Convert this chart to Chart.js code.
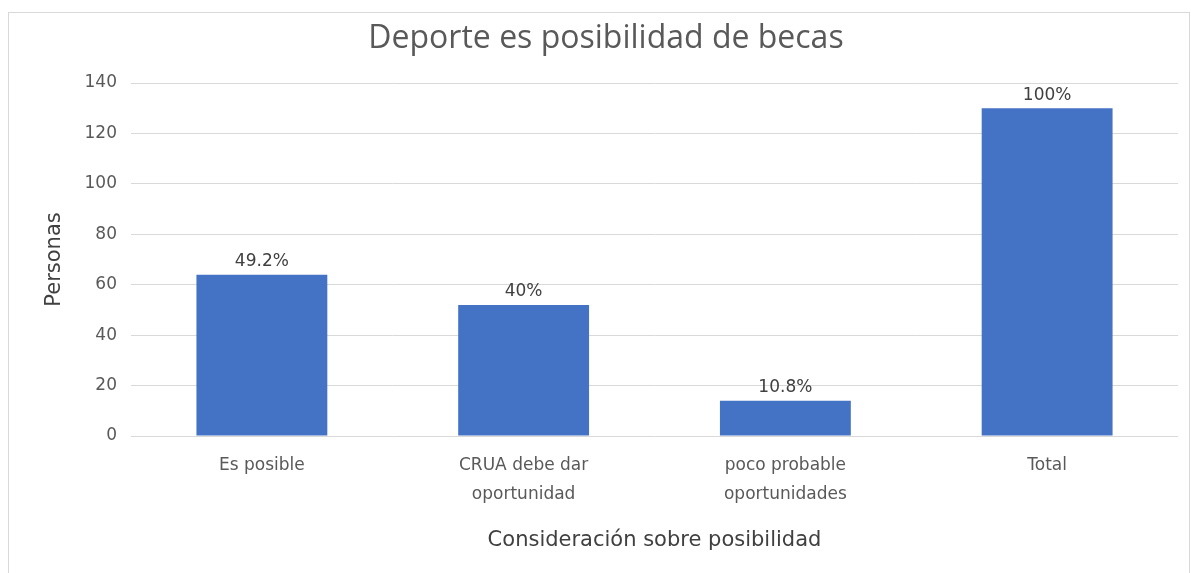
<!DOCTYPE html>
<html>
<head>
<meta charset="utf-8">
<script src="https://cdn.jsdelivr.net/npm/chart.js@4"></script>
<style>
  body { margin: 0; background: #fff; }
  #wrap { position: relative; width: 1191px; height: 573px; }
  #frame { position: absolute; left: 8px; top: 12px; width: 1180px; height: 570px; border: 1px solid #d9d9d9; }
  canvas { position: absolute; left: 0; top: 0; }
</style>
</head>
<body>
<div id="wrap">
  <div id="frame"></div>
  <canvas id="chart" width="1191" height="573"></canvas>
</div>
<script>
  var categories = [['Es posible'], ['CRUA debe dar', 'oportunidad'], ['poco probable', 'oportunidades'], ['Total']];
  var personas = [64, 52, 14, 130];
  var pctLabels = ['49.2%', '40%', '10.8%', '100%'];
  var yTicks = [0, 20, 40, 60, 80, 100, 120, 140];

  var titleFont = '"Open Sans", sans-serif';
  var smallFont = '"DejaVu Sans", sans-serif';

  // percent labels above the bars
  var barLabels = {
    id: 'barLabels',
    afterDatasetsDraw(chart) {
      var ctx = chart.ctx;
      var meta = chart.getDatasetMeta(0);
      ctx.save();
      ctx.font = '17px ' + smallFont;
      ctx.fillStyle = '#404040';
      ctx.textAlign = 'center';
      ctx.textBaseline = 'middle';
      meta.data.forEach(function (bar, i) {
        ctx.fillText(pctLabels[i], bar.x, bar.y - 13);
      });
      ctx.restore();
    }
  };

  new Chart(document.getElementById('chart'), {
    type: 'bar',
    data: {
      labels: categories,
      datasets: [{
        data: personas,
        backgroundColor: '#4472C4',
        borderWidth: 0,
        categoryPercentage: 0.5,
        barPercentage: 1
      }]
    },
    plugins: [barLabels],
    options: {
      responsive: false,
      animation: false,
      layout: { padding: { left: 34, right: 13, top: 0, bottom: 0 } },
      plugins: {
        legend: { display: false },
        tooltip: { enabled: false },
        title: {
          display: true,
          text: 'Deporte es posibilidad de becas',
          color: '#595959',
          font: { family: titleFont, size: 32, weight: 'normal' },
          padding: { top: 20, bottom: 24.6 }
        }
      },
      scales: {
        y: {
          min: 0,
          max: 140,
          afterBuildTicks: function (scale) {
            scale.ticks = yTicks.map(function (v) { return { value: v }; });
          },
          afterFit: function (scale) { scale.width = 97; },
          grid: { color: '#d9d9d9', lineWidth: 1, drawTicks: false },
          border: { display: false },
          ticks: {
            color: '#595959',
            padding: 14,
            font: { family: smallFont, size: 17 }
          },
          title: {
            display: true,
            text: 'Personas',
            color: '#404040',
            font: { family: smallFont, size: 21 },
            padding: { top: 8, bottom: 0 }
          }
        },
        x: {
          afterFit: function (scale) { scale.height = 137; },
          grid: { display: false, drawTicks: false },
          border: { display: false },
          ticks: {
            color: '#595959',
            padding: 15,
            maxRotation: 0,
            font: { family: smallFont, size: 17, lineHeight: 1.7 }
          },
          title: {
            display: true,
            text: 'Consideración sobre posibilidad',
            color: '#404040',
            font: { family: smallFont, size: 21 },
            padding: { top: 4, bottom: 20 }
          }
        }
      }
    }
  });
</script>
</body>
</html>
